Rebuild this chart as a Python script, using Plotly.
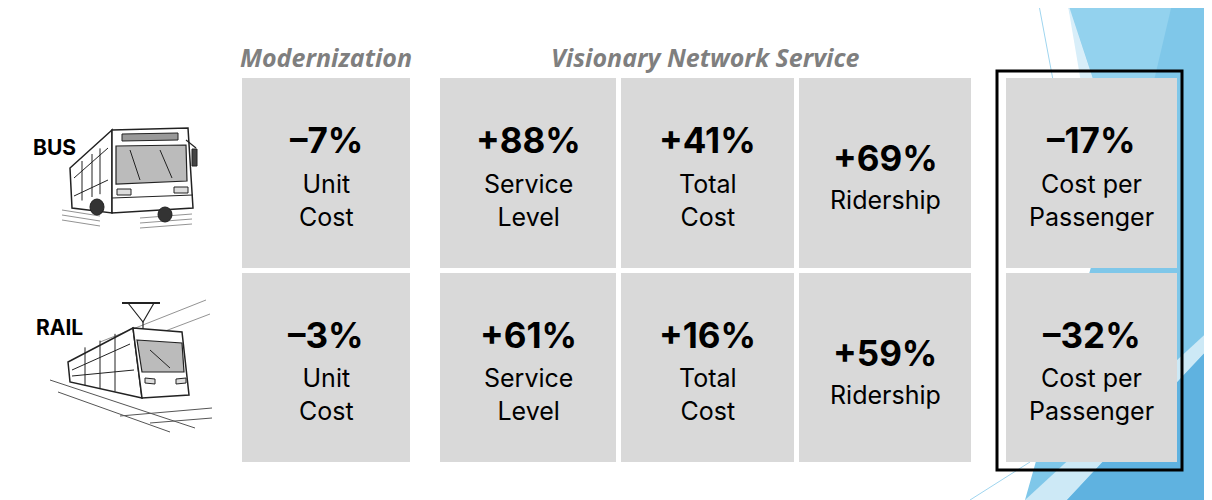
import plotly.graph_objects as go

# DATA #
modes = ["BUS", "RAIL"]
groups = ["Modernization", "Visionary Network Service"]
metrics = ["Unit<br>Cost", "Service<br>Level", "Total<br>Cost", "Ridership", "Cost per<br>Passenger"]
metric_group = [0, 1, 1, 1, None]   # which header each column sits under
bus_pct = [-7, 88, 41, 69, -17]
rail_pct = [-3, 61, 16, 59, -32]

# LAYOUT (pixels, y down) #
W, H = 1212, 500
PAD = 8   # page body margin, the figure starts 8px in
col_left = [242, 440, 621, 799, 1006]
col_right = [410, 616, 794, 971, 1177]
row_top = [78, 273]
row_bottom = [268, 462]
cell_color = "#d9d9d9"


def fmt(v):
    # en dash for negatives, like the slide
    return ("+" if v > 0 else "\u2013") + f"{abs(v)}%"


fig = go.Figure()
fig.add_trace(go.Scatter(x=[PAD, W], y=[PAD, H], mode="markers", marker=dict(opacity=0), hoverinfo="skip", showlegend=False))

shapes = []
annotations = []

# background decoration (blue facets on the right)
def poly(pts, color, line=None, width=0):
    path = "M " + " L ".join(f"{x} {y}" for x, y in pts) + " Z"
    shapes.append(dict(type="path", path=path, xref="x", yref="y", fillcolor=color,
                       line=dict(width=width, color=line or color), layer="below"))

poly([(1067, 0), (W, 0), (W, H), (1025, H), (1110, 200)], "#7fc7e9")
poly([(1067, 0), (1173, 0), (1140, 140), (1093, 78)], "#93d2ee")
poly([(1067, 0), (1100, 100), (1084, 100)], "#d8eef9")
poly([(1025, H), (1067, H), (W, 345), (W, 328)], "#cde9f6")
poly([(1067, H), (W, H), (W, 345)], "#5fb2e0")
shapes.append(dict(type="line", x0=1038, y0=0, x1=1053, y1=80, xref="x", yref="y", line=dict(color="#9fd5ef", width=1), layer="below"))
shapes.append(dict(type="line", x0=970, y0=H, x1=1030, y1=462, xref="x", yref="y", line=dict(color="#9fd5ef", width=1), layer="below"))

# cells + text
for r, vals in enumerate([bus_pct, rail_pct]):
    cy = (row_top[r] + row_bottom[r]) / 2
    for c, v in enumerate(vals):
        shapes.append(dict(type="rect", xref="x", yref="y", x0=col_left[c], x1=col_right[c],
                           y0=row_top[r], y1=row_bottom[r], fillcolor=cell_color, line=dict(width=0), layer="below"))
        cx = (col_left[c] + col_right[c]) / 2
        nlines = metrics[c].count("<br>") + 1
        annotations.append(dict(x=cx, y=cy - 15 - 18 * (nlines - 1), xref="x", yref="y", text=f"<b>{fmt(v)}</b>",
                                showarrow=False, yanchor="middle", font=dict(family="Inter", size=35, color="black")))
        annotations.append(dict(x=cx, y=cy + 27, xref="x", yref="y", text=metrics[c], showarrow=False,
                                yanchor="middle", font=dict(family="Inter", size=25, color="black")))

# group headers
for g, name in enumerate(groups):
    cols = [i for i, mg in enumerate(metric_group) if mg == g]
    hx = (col_left[cols[0]] + col_right[cols[-1]]) / 2
    annotations.append(dict(x=hx, y=57, xref="x", yref="y", text=f"<b><i>{name}</i></b>", showarrow=False,
                            yanchor="middle", font=dict(family="Open Sans", size=25, color="#7f7f7f")))

# highlight box round cost per passenger
shapes.append(dict(type="rect", xref="x", yref="y", x0=997, x1=1182, y0=71, y1=470,
                   line=dict(color="black", width=3), fillcolor="rgba(0,0,0,0)"))

# mode labels
for name, y in zip(modes, [147, 327]):
    annotations.append(dict(x=54 if name == "BUS" else 59, y=y, xref="x", yref="y", text=f"<b>{name}</b>",
                            showarrow=False, yanchor="middle", font=dict(family="Inter", size=21, color="black")))

# rough sketches of the vehicles
ink = "#222222"
def line(pts, width=1.5, color=ink):
    path = "M " + " L ".join(f"{x} {y}" for x, y in pts)
    shapes.append(dict(type="path", path=path, xref="x", yref="y", line=dict(color=color, width=width)))

def outline(pts, width=1.5, fill="white"):
    path = "M " + " L ".join(f"{x} {y}" for x, y in pts) + " Z"
    shapes.append(dict(type="path", path=path, xref="x", yref="y", fillcolor=fill, line=dict(color=ink, width=width)))

# bus
for y0 in [214, 219, 224]:
    line([(62, y0 - 4), (100, y0 + 2)], 0.8, "#777777")
    line([(140, y0 + 4), (192, y0)], 0.8, "#777777")
outline([(112, 130), (70, 168), (72, 208), (112, 213)])
outline([(112, 130), (188, 128), (193, 208), (112, 213)])
outline([(116, 146), (186, 145), (187, 181), (116, 184)], 1.2, "#bbbbbb")
outline([(122, 134), (178, 133), (178, 140), (122, 141)], 1, "#999999")
line([(108, 148), (74, 178)], 1)
line([(108, 180), (74, 196)], 1)
for x in [82, 92, 100]:
    line([(x, 140 + (112 - x) * 0.2 + (112 - x) * 0.5), (x, 190 + (112 - x) * 0.35)], 1)
line([(112, 198), (193, 195)], 1.2)
outline([(117, 189), (131, 189), (131, 195), (117, 195)], 1, "#dddddd")
outline([(174, 187), (188, 187), (188, 193), (174, 193)], 1, "#dddddd")
line([(186, 140), (196, 148)], 1.2)
outline([(192, 149), (197, 149), (197, 166), (192, 166)], 1, "#444444")
line([(130, 150), (140, 180)], 1)
line([(160, 150), (172, 178)], 1)
shapes.append(dict(type="circle", xref="x", yref="y", x0=90, x1=104, y0=199, y1=215, fillcolor="#333333", line=dict(color=ink, width=1)))
shapes.append(dict(type="circle", xref="x", yref="y", x0=158, x1=172, y0=207, y1=222, fillcolor="#333333", line=dict(color=ink, width=1)))

# rail
line([(100, 342), (206, 300)], 0.8, "#777777")
line([(110, 352), (210, 314)], 0.8, "#777777")
line([(50, 380), (195, 428)], 1, "#555555")
line([(58, 392), (170, 432)], 1, "#555555")
line([(120, 416), (212, 408)], 1, "#555555")
line([(150, 423), (212, 418)], 1, "#555555")
line([(122, 303), (160, 303)], 2)
line([(128, 303), (143, 322), (154, 303)], 1.2)
line([(143, 322), (143, 330)], 1.2)
outline([(133, 328), (68, 362), (70, 382), (142, 398)])
outline([(133, 328), (182, 332), (189, 395), (142, 398)])
outline([(137, 340), (182, 343), (184, 372), (142, 372)], 1.2, "#bbbbbb")
line([(130, 344), (72, 370)], 1)
line([(134, 370), (72, 376)], 1)
for x in [85, 100, 115]:
    line([(x, 355 - (x - 68) * 0.45), (x, 382 + (x - 68) * 0.2)], 1)
outline([(145, 378), (155, 379), (155, 384), (145, 383)], 1, "#dddddd")
outline([(176, 379), (186, 378), (186, 383), (176, 384)], 1, "#dddddd")
line([(150, 350), (170, 368)], 1)

fig.update_layout(
    width=W - PAD, height=H - PAD,
    margin=dict(l=0, r=0, t=0, b=0),
    paper_bgcolor="white", plot_bgcolor="white",
    xaxis=dict(range=[PAD, W], visible=False, fixedrange=True),
    yaxis=dict(range=[H, PAD], visible=False, fixedrange=True),
    shapes=shapes,
    annotations=annotations,
    showlegend=False,
)

fig.write_html("out.html")
